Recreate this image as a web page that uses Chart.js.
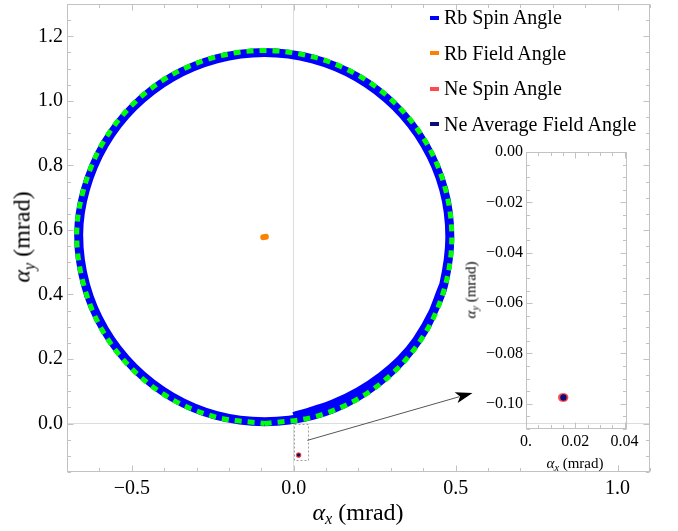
<!DOCTYPE html>
<html>
<head>
<meta charset="utf-8">
<script src="https://cdn.jsdelivr.net/npm/chart.js@4.4.1/dist/chart.umd.min.js"></script>
<style>
  html, body { margin: 0; padding: 0; background: #fff; }
  #wrap { position: relative; width: 678px; height: 531px; font-family: 'Liberation Serif', 'DejaVu Serif', serif; color: #000; }
  canvas { position: absolute; }
  #main { left: 0; top: 0; }
  #inset { left: 440px; top: 130px; }
  .lbl { position: absolute; white-space: nowrap; transform: translate(-50%, -50%); }
  .lbl.rot { transform: translate(-50%, -50%) rotate(-90deg); }
  .lbl i { font-style: italic; }
  .lbl sub { font-size: 68%; font-style: italic; vertical-align: -0.3em; line-height: 0; }
  #legend { position: absolute; left: 430px; top: 0px; }
  .row { display: flex; align-items: center; height: 35.5px; font-size: 20px; }
  .sw { width: 9px; height: 4px; margin-right: 5px; }
</style>
</head>
<body>
<div id="wrap">
  <canvas id="main" width="678" height="531"></canvas>
  <canvas id="inset" width="200" height="350"></canvas>
  <div class="lbl" style="left:358px; top:512px; font-size:24px;"><i>α</i><sub>x</sub> (mrad)</div>
  <div class="lbl rot" style="left:22px; top:237px; font-size:24px;"><i>α</i><sub>y</sub> (mrad)</div>
  <div class="lbl" style="left:575px; top:463px; font-size:15px;"><i>α</i><sub>x</sub> (mrad)</div>
  <div class="lbl rot" style="left:471px; top:290px; font-size:15px;"><i>α</i><sub>y</sub> (mrad)</div>
  <div id="legend"></div>
</div>
<script>
// axis ranges and tick labels
const xMin = -0.70, xMax = 1.10, yMin = -0.15, yMax = 1.30;
const xTicks = [-0.5, 0, 0.5, 1.0];
const yTicks = [0, 0.2, 0.4, 0.6, 0.8, 1.0, 1.2];
const insetXMin = 0, insetXMax = 0.041, insetYMin = -0.11, insetYMax = 0;
const insetXTicks = [0, 0.02, 0.04];
const insetYTicks = [-0.10, -0.08, -0.06, -0.04, -0.02, 0];

// Rb spin trajectory (starts near origin, then loops round just inside the green circle)
const rbSpinX = [0.000, 0.060, 0.120, 0.200, 0.270, 0.330, 0.380, 0.430, 0.463, 0.482, 0.463, 0.405, 0.314, 0.196, 0.058, -0.090, -0.238, -0.376, -0.494, -0.585, -0.643, -0.664, -0.643, -0.585, -0.494, -0.376, -0.238, -0.090, 0.058, 0.196, 0.314, 0.405, 0.463];
const rbSpinY = [0.022, 0.040, 0.060, 0.099, 0.146, 0.198, 0.258, 0.345, 0.430, 0.578, 0.726, 0.864, 0.982, 1.073, 1.130, 1.150, 1.130, 1.073, 0.982, 0.864, 0.726, 0.585, 0.430, 0.292, 0.174, 0.083, 0.025, 0.006, 0.025, 0.083, 0.174, 0.292, 0.430];

// dashed green circle
const fitX = [-0.090, 0.060, 0.199, 0.319, 0.411, 0.468, 0.488, 0.468, 0.411, 0.319, 0.199, 0.060, -0.090, -0.240, -0.379, -0.499, -0.591, -0.648, -0.670, -0.648, -0.591, -0.499, -0.379, -0.240, -0.090];
const fitY = [0.000, 0.020, 0.077, 0.169, 0.289, 0.428, 0.578, 0.728, 0.867, 0.987, 1.079, 1.136, 1.156, 1.136, 1.079, 0.987, 0.867, 0.728, 0.585, 0.428, 0.289, 0.169, 0.077, 0.020, 0.000];

const rbFieldX = [-0.094, -0.086];
const rbFieldY = [0.577, 0.579];
const neSpinX = [0.0147, 0.0155];
const neSpinY = [-0.0975, -0.0975];
const neFieldX = [0.0152];
const neFieldY = [-0.0975];

// zoom box and arrow, in data units
const zoomBoxX = [0, 0.042];
const zoomBoxY = [-0.11, 0];
const arrowFrom = [0.042, -0.052];
const arrowTo = [0.552, 0.095];

const legendNames = ['Rb Spin Angle', 'Rb Field Angle', 'Ne Spin Angle', 'Ne Average Field Angle'];

const BLUE = '#0000ff', ORANGE = '#ff8000', RED = '#ff4a4a', NAVY = '#0c0c7a', GREEN = '#00ff00';
const legendColors = [BLUE, ORANGE, RED, NAVY];
const FRAME = '#c2c2c2', GRID = '#dcdcdc';
const SERIF = "'Liberation Serif', 'DejaVu Serif', serif";

const $ = (id) => document.getElementById(id);
const pts = (xs, ys) => xs.map((x, i) => ({ x: x, y: ys[i] }));
const fmt = (v, d) => (v < 0 ? '\u2212' : '') + Math.abs(v).toFixed(d);

$('legend').innerHTML = legendNames.map((n, i) =>
  `<div class="row"><span class="sw" style="background:${legendColors[i]}"></span>${n}</div>`).join('');

// frame rectangle with small inward ticks on all sides
function frameTicks(xStep, xMajor, yStep, yMajor) {
  return {
    id: 'frameTicks',
    beforeDatasetsDraw(chart) {
      const { ctx, chartArea: a, scales: { x, y } } = chart;
      const L = Math.round(a.left) + 0.5, R = Math.round(a.right) - 0.5;
      const T = Math.round(a.top) + 0.5, B = Math.round(a.bottom) - 0.5;
      ctx.save();
      ctx.strokeStyle = FRAME;
      ctx.lineWidth = 1;
      ctx.strokeRect(L, T, R - L, B - T);
      ctx.beginPath();
      for (let i = Math.ceil(x.min / xStep - 1e-6); i * xStep <= x.max + 1e-9; i++) {
        const px = Math.round(x.getPixelForValue(i * xStep)) + 0.5;
        const len = i % xMajor === 0 ? 6 : 3.5;
        ctx.moveTo(px, B); ctx.lineTo(px, B - len);
        ctx.moveTo(px, T); ctx.lineTo(px, T + len);
      }
      for (let i = Math.ceil(y.min / yStep - 1e-6); i * yStep <= y.max + 1e-9; i++) {
        const py = Math.round(y.getPixelForValue(i * yStep)) + 0.5;
        const len = i % yMajor === 0 ? 6 : 3.5;
        ctx.moveTo(L, py); ctx.lineTo(L + len, py);
        ctx.moveTo(R, py); ctx.lineTo(R - len, py);
      }
      ctx.stroke();
      ctx.restore();
    }
  };
}

const zoomMarks = {
  id: 'zoomMarks',
  afterDatasetsDraw(chart) {
    const { ctx, scales: { x, y } } = chart;
    ctx.save();
    ctx.strokeStyle = '#a0a0a0';
    ctx.lineWidth = 1;
    ctx.setLineDash([2, 2]);
    const bx0 = x.getPixelForValue(zoomBoxX[0]), bx1 = x.getPixelForValue(zoomBoxX[1]);
    const by0 = y.getPixelForValue(zoomBoxY[0]), by1 = y.getPixelForValue(zoomBoxY[1]);
    ctx.strokeRect(Math.round(bx0) + 0.5, Math.round(by1) + 0.5, Math.round(bx1 - bx0), Math.round(by0 - by1));
    ctx.setLineDash([]);
    const x0 = x.getPixelForValue(arrowFrom[0]), y0 = y.getPixelForValue(arrowFrom[1]);
    const x1 = x.getPixelForValue(arrowTo[0]), y1 = y.getPixelForValue(arrowTo[1]);
    const ang = Math.atan2(y1 - y0, x1 - x0);
    const hl = 17, hw = 5.5;
    ctx.strokeStyle = '#555';
    ctx.beginPath();
    ctx.moveTo(x0, y0);
    ctx.lineTo(x1 - Math.cos(ang) * (hl - 3), y1 - Math.sin(ang) * (hl - 3));
    ctx.stroke();
    ctx.translate(x1, y1);
    ctx.rotate(ang);
    ctx.fillStyle = '#000';
    ctx.beginPath();
    ctx.moveTo(0, 0);
    ctx.lineTo(-hl, -hw);
    ctx.lineTo(-hl + 4, 0);
    ctx.lineTo(-hl, hw);
    ctx.closePath();
    ctx.fill();
    ctx.restore();
  }
};

function pointSet(label, xs, ys, color, r, order) {
  return { label: label, data: pts(xs, ys), pointRadius: r, pointBackgroundColor: color,
    pointBorderWidth: 0, backgroundColor: color, borderColor: color, order: order };
}

function axis(min, max, ticks, size, fontSize, pad, fmtFn, gridColor) {
  return {
    type: 'linear', min: min, max: max,
    afterBuildTicks: s => { s.ticks = ticks.map(v => ({ value: v })); },
    afterFit: s => {
      if (s.isHorizontal()) s.height = size; else s.width = size;
      // labels never sit on the ends, so no extra room is needed there
      s.paddingTop = 0; s.paddingBottom = 0; s.paddingLeft = 0; s.paddingRight = 0;
    },
    border: { display: false },
    grid: { drawTicks: false, color: gridColor || 'transparent' },
    ticks: { font: { family: SERIF, size: fontSize }, color: '#000', padding: pad,
      autoSkip: false, maxRotation: 0, callback: fmtFn }
  };
}

const zeroGrid = c => (c.tick && c.tick.value === 0 ? GRID : 'transparent');

Chart.defaults.font.family = SERIF;

// main plot
new Chart($('main'), {
  type: 'scatter',
  data: {
    datasets: [
      pointSet('Ne Average Field Angle', neFieldX, neFieldY, NAVY, 1.8, 0),
      pointSet('Ne Spin Angle', neSpinX, neSpinY, RED, 2.6, 1),
      pointSet('Rb Field Angle', rbFieldX, rbFieldY, ORANGE, 3, 2),
      { label: 'Fit', data: pts(fitX, fitY), showLine: true, borderColor: GREEN, borderWidth: 5,
        borderDash: [7, 6], borderCapStyle: 'butt', pointRadius: 0, tension: 0.34, order: 3 },
      { label: 'Rb Spin Angle', data: pts(rbSpinX, rbSpinY), showLine: true, borderColor: BLUE,
        borderWidth: 9, borderCapStyle: 'butt', pointRadius: 0, tension: 0.34, order: 4 }
    ]
  },
  options: {
    responsive: false, animation: false, devicePixelRatio: 1,
    layout: { padding: { top: 2, right: 28, left: 0, bottom: 0 } },
    plugins: { legend: { display: false }, tooltip: { enabled: false } },
    scales: {
      x: axis(xMin, xMax, xTicks, 59, 20, 5, v => fmt(v, 1), zeroGrid),
      y: axis(yMin, yMax, yTicks, 67, 20, 4, v => fmt(v, 1), zeroGrid)
    }
  },
  plugins: [frameTicks(0.1, 5, 0.05, 4), zoomMarks]
});

// inset zoom
new Chart($('inset'), {
  type: 'scatter',
  data: {
    datasets: [
      pointSet('Ne Average Field Angle', neFieldX, neFieldY, NAVY, 3.2, 0),
      pointSet('Ne Spin Angle', neSpinX, neSpinY, RED, 4.2, 1)
    ]
  },
  options: {
    responsive: false, animation: false, devicePixelRatio: 1,
    layout: { padding: { top: 22, right: 13, left: 0, bottom: 0 } },
    plugins: { legend: { display: false }, tooltip: { enabled: false } },
    scales: {
      x: axis(insetXMin, insetXMax, insetXTicks, 51, 16, 3, v => (v === 0 ? '0.' : fmt(v, 2))),
      y: axis(insetYMin, insetYMax, insetYTicks, 86, 16, 3, v => fmt(v, 2))
    }
  },
  plugins: [frameTicks(0.005, 4, 0.005, 4)]
});
</script>
</body>
</html>
